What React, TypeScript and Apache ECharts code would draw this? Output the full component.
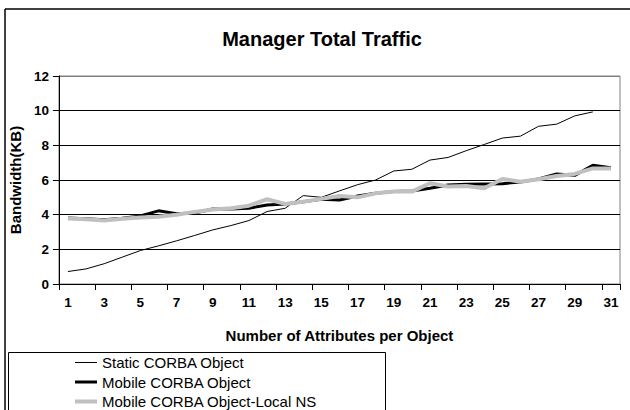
import React, { useEffect, useRef } from "react";
import * as echarts from "echarts";

const categories = ["1","2","3","4","5","6","7","8","9","10","11","12","13","14","15","16","17","18","19","20","21","22","23","24","25","26","27","28","29","30","31"];
const staticCorba = [0.72,0.87,1.17,1.55,1.93,2.2,2.49,2.8,3.12,3.37,3.66,4.18,4.37,5.1,5.0,5.37,5.73,6.0,6.52,6.62,7.15,7.3,7.69,8.05,8.42,8.53,9.1,9.22,9.7,9.93,null];
const mobileCorba = [3.81,3.76,3.7,3.8,3.93,4.22,4.05,4.1,4.33,4.33,4.37,4.56,4.62,4.75,4.89,4.85,5.08,5.23,5.33,5.37,5.52,5.71,5.75,5.77,5.79,5.89,6.06,6.35,6.27,6.85,6.71];
const mobileLocalNS = [3.78,3.73,3.66,3.77,3.84,3.88,4.0,4.16,4.3,4.37,4.52,4.89,4.62,4.75,4.91,5.08,5.0,5.23,5.33,5.33,5.81,5.62,5.66,5.52,6.06,5.9,6.04,6.23,6.35,6.67,6.67];
const seriesNames = ["Static CORBA Object","Mobile CORBA Object","Mobile CORBA Object-Local NS"];
const seriesColors = ["#000", "#000", "#c0c0c0"];
const seriesWidths = [1, 3, 4];

const FONT = "'Liberation Sans', Arial, sans-serif";

// legend icon: horizontal bar of given thickness centred in a 22x14 box
const lineIcon = (w: number) => {
  const y0 = 7 - w / 2;
  return `path://M0,0h0.01v0.01h-0.01z M21.99,13.99h0.01v0.01h-0.01z M0,${y0}h22v${w}h-22z`;
};

export default function App() {
  const ref = useRef<HTMLDivElement>(null);
  useEffect(() => {
    if (!ref.current) return;
    const chart = echarts.init(ref.current, undefined, { renderer: "svg" });
    chart.setOption({
      animation: false,
      backgroundColor: "#fff",
      title: {
        text: "Manager Total Traffic",
        left: 317,
        textAlign: "center",
        top: 24,
        textStyle: { fontFamily: FONT, fontSize: 20, fontWeight: "bold", color: "#000" },
      },
      grid: { left: 55, right: 10, top: 76, bottom: 126, show: true, borderColor: "#808080", borderWidth: 1 },
      xAxis: {
        type: "category",
        data: categories,
        boundaryGap: true,
        name: "Number of Attributes per Object",
        nameLocation: "middle",
        nameGap: 44,
        nameTextStyle: { fontFamily: FONT, fontSize: 15, fontWeight: "bold", color: "#000" },
        axisLine: { lineStyle: { color: "#000", width: 1 } },
        axisTick: { show: true, interval: 1, length: 6, lineStyle: { color: "#000" } },
        axisLabel: { interval: 1, margin: 11, fontFamily: FONT, fontSize: 13.5, fontWeight: "bold", color: "#000" },
        splitLine: { show: false },
      },
      yAxis: {
        type: "value",
        min: 0,
        max: 12,
        interval: 2,
        name: "Bandwidth(KB)",
        nameLocation: "middle",
        nameRotate: 90,
        nameGap: 29,
        nameTextStyle: { fontFamily: FONT, fontSize: 15, fontWeight: "bold", color: "#000" },
        axisLine: { show: true, lineStyle: { color: "#000", width: 1 } },
        axisTick: { show: true, length: 6, lineStyle: { color: "#000" } },
        axisLabel: { margin: 10, fontFamily: FONT, fontSize: 13.5, fontWeight: "bold", color: "#000" },
        splitLine: { show: true, lineStyle: { color: ["#000", "#000", "#000", "#000", "#000", "#000", "#808080"], width: 1 } },
      },
      legend: {
        orient: "vertical",
        left: 75,
        top: 355,
        height: 90,
        padding: 0,
        itemWidth: 22,
        itemHeight: 14,
        itemGap: 4.5,
        textStyle: { fontFamily: FONT, fontSize: 15, color: "#000", lineHeight: 14 },
        data: seriesNames.map((n, i) => ({
          name: n,
          icon: lineIcon(seriesWidths[i]),
          itemStyle: { color: seriesColors[i], borderWidth: 0 },
        })),
      },
      graphic: [
        { type: "line", shape: { x1: 5, y1: 9, x2: 630, y2: 9 }, style: { stroke: "#000", lineWidth: 1.5 } },
        { type: "line", shape: { x1: 5, y1: 9, x2: 5, y2: 410 }, style: { stroke: "#000", lineWidth: 1.5 } },
        { type: "rect", shape: { x: 8.5, y: 352.5, width: 377, height: 80 }, style: { fill: "none", stroke: "#000", lineWidth: 1 } },
      ],
      series: [0, 1, 2].map((i) => ({
        name: seriesNames[i],
        type: "line",
        data: [staticCorba, mobileCorba, mobileLocalNS][i],
        symbol: "none",
        lineStyle: { color: seriesColors[i], width: seriesWidths[i] },
        itemStyle: { color: seriesColors[i] },
      })),
    });
    return () => chart.dispose();
  }, []);
  return <div ref={ref} style={{ position: "fixed", left: 0, top: 0, width: 630, height: 410 }} />;
}
